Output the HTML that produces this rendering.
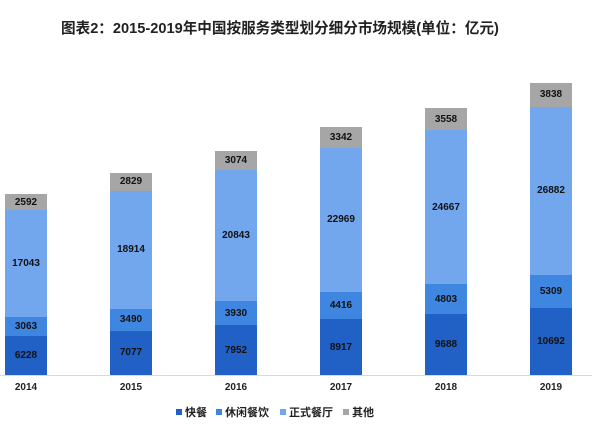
<!DOCTYPE html>
<html><head><meta charset="utf-8"><style>
body{margin:0;width:600px;height:430px;background:#fff;position:relative;overflow:hidden;font-family:"Liberation Sans","Noto Sans CJK SC",sans-serif}
.t{position:absolute;left:61px;top:17px;font-size:14.6px;font-weight:bold;color:#222;white-space:nowrap}
.seg{position:absolute;width:42px;display:flex;align-items:center;justify-content:center;font-size:10px;font-weight:bold;color:#111}
.yr{position:absolute;top:382px;width:42px;text-align:center;font-size:10px;font-weight:bold;color:#222}
.lg{position:absolute;top:404px;font-size:11px;font-weight:bold;color:#222;white-space:nowrap}
.sq{display:inline-block;width:6px;height:6px;margin-right:3px;vertical-align:1px}
</style></head><body>
<div class="t">图表2：2015-2019年中国按服务类型划分细分市场规模(单位：亿元)</div>
<div style="position:absolute;left:0;top:375px;width:592px;height:1px;background:#d9d9d9"></div>
<div id="c"></div>
<div class="lg" style="left:176px"><span class="sq" style="background:#2160c4"></span>快餐</div>
<div class="lg" style="left:216px"><span class="sq" style="background:#3f86e0"></span>休闲餐饮</div>
<div class="lg" style="left:280px"><span class="sq" style="background:#72a7ee"></span>正式餐厅</div>
<div class="lg" style="left:343px"><span class="sq" style="background:#a6a6a6"></span>其他</div>
<script>
var d=[[2014,6228,3063,17043,2592],[2015,7077,3490,18914,2829],[2016,7952,3930,20843,3074],[2017,8917,4416,22969,3342],[2018,9688,4803,24667,3558],[2019,10692,5309,26882,3838]];
var col=["#2160c4","#3f86e0","#72a7ee","#a6a6a6"],h="",k=292/46721;
d.forEach(function(r,i){var x=5+105*i,y=375;
for(var j=1;j<5;j++){var hh=r[j]*k;y-=hh;h+='<div class="seg" style="left:'+x+'px;top:'+y+'px;height:'+hh+'px;background:'+col[j-1]+'">'+r[j]+'</div>';}
h+='<div class="yr" style="left:'+x+'px">'+r[0]+'</div>';});
document.getElementById("c").innerHTML=h;
</script>
</body></html>
